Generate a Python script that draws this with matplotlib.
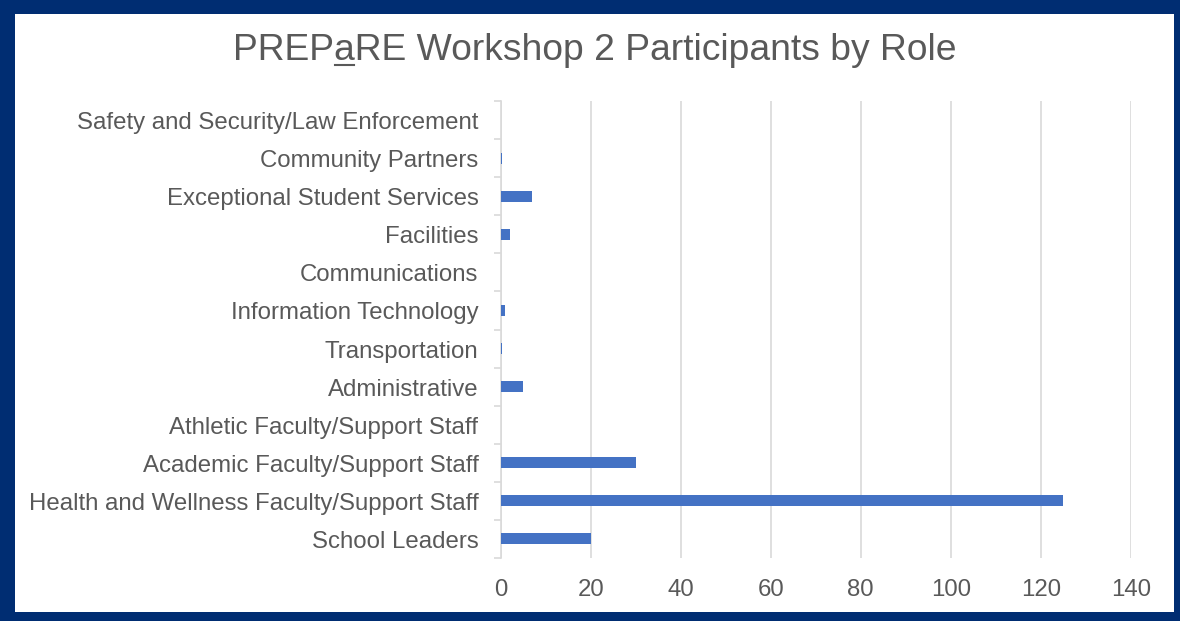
import matplotlib
matplotlib.use("Agg")
import matplotlib.pyplot as plt
import matplotlib.transforms as mtransforms
from matplotlib.patches import Rectangle
from matplotlib.lines import Line2D

# categories listed bottom -> top, as drawn
roles = [
    "School Leaders",
    "Health and Wellness Faculty/Support Staff",
    "Academic Faculty/Support Staff",
    "Athletic Faculty/Support Staff",
    "Administrative",
    "Transportation",
    "Information Technology",
    "Communications",
    "Facilities",
    "Exceptional Student Services",
    "Community Partners",
    "Safety and Security/Law Enforcement",
]
participants = [20, 125, 30, 0, 5, 0.3, 1, 0, 2, 7, 0.3, 0]
x_ticks = [0, 20, 40, 60, 80, 100, 120, 140]

W, H = 1180, 621
plt.rcParams['font.family'] = ['Liberation Sans', 'DejaVu Sans']
text_col = "#595959"
fs = 17.3

fig = plt.figure(figsize=(W / 100, H / 100), dpi=100)

# dark blue frame around the chart
fig.patches.append(Rectangle((0, 0), 1, 1, transform=fig.transFigure,
                             facecolor="#002D72", edgecolor="none", zorder=-10))
fig.patches.append(Rectangle((15 / W, 1 - 612 / H), (1174 - 15) / W, (612 - 14) / H,
                             transform=fig.transFigure, facecolor="white",
                             edgecolor="none", zorder=-9))

left, right, top, bottom = 500.7, 1130.7, 101, 558
ax = fig.add_axes([left / W, 1 - bottom / H, (right - left) / W, (bottom - top) / H])
ax.set_facecolor("none")

ypos = range(len(roles))
ax.barh(ypos, participants, height=0.29, color="#4472C4", zorder=3)

ax.set_xlim(0, 140)
ax.set_ylim(-0.5, len(roles) - 0.5)
ax.set_xticks(x_ticks)
ax.set_xticklabels([str(t) for t in x_ticks])
ax.set_yticks([i - 0.5 for i in range(len(roles) + 1)])
ax.set_yticklabels([])
ax.set_yticks(list(ypos), minor=True)
ax.set_yticklabels(roles, minor=True)

ax.grid(axis="x", color="#D9D9D9", linewidth=1.2, zorder=0)
for s in ["top", "right", "bottom"]:
    ax.spines[s].set_visible(False)
ax.spines["left"].set_color("#D9D9D9")
ax.spines["left"].set_linewidth(1.2)
ax.tick_params(axis="y", which="major", length=5, width=1.2, color="#D9D9D9")
ax.tick_params(axis="y", which="minor", length=0, pad=16, labelsize=fs, labelcolor=text_col)
ax.tick_params(axis="x", length=0, pad=15, labelsize=fs, labelcolor=text_col)
shift = mtransforms.ScaledTranslation(0, -3 / 100, fig.dpi_scale_trans)
for lbl in ax.get_yticklabels(minor=True):
    lbl.set_va("center")
    lbl.set_transform(lbl.get_transform() + shift)

# title, with underlined "a"
title = "PREPaRE Workshop 2 Participants by Role"
tfs = 26.8
tx, ty = 595 / W, 1 - 50 / H
t = fig.text(tx, ty, title, ha="center", va="center", fontsize=tfs, color=text_col)
fig.canvas.draw()
r = fig.canvas.get_renderer()
bb = t.get_window_extent(r)
t1 = fig.text(0, 0, "PREP", fontsize=tfs)
t2 = fig.text(0, 0, "PREPa", fontsize=tfs)
w1 = t1.get_window_extent(r).width
w2 = t2.get_window_extent(r).width
t1.remove()
t2.remove()
uy = bb.y0 + 3
fig.lines.append(Line2D([(bb.x0 + w1 + 1) / W, (bb.x0 + w2 - 1) / W], [uy / H, uy / H],
                        transform=fig.transFigure, color=text_col, linewidth=1.5))

fig.savefig("out.png", dpi=100)
